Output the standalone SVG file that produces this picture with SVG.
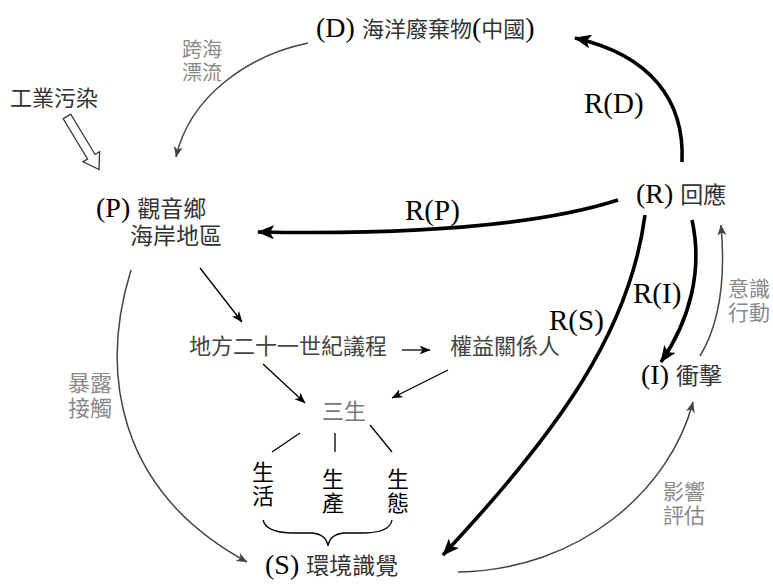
<svg xmlns="http://www.w3.org/2000/svg" width="773" height="585" viewBox="0 0 773 585">
<style>
.lat{font-family:"Liberation Serif","Times New Roman",serif;fill:#000}
.cjk{font-family:"Noto Sans CJK TC","Noto Sans CJK SC",sans-serif;fill:#333}
.n{font-size:22px}
.v{writing-mode:vertical-rl;letter-spacing:2px;fill:#000}
.lab{font-family:"Noto Sans CJK TC","Noto Sans CJK SC",sans-serif;fill:#8a8a8a;font-size:20px}
.rl{font-family:"Liberation Serif","Times New Roman",serif;font-size:29px;fill:#000}
.thick{fill:none;stroke:#000;stroke-width:3.6}
.thin{fill:none;stroke:#444;stroke-width:1.5}
.line{fill:none;stroke:#000;stroke-width:1.3}
</style>
<defs>
<marker id="hk" markerUnits="userSpaceOnUse" viewBox="0 0 17 14" refX="16" refY="7" markerWidth="17" markerHeight="14" orient="auto">
<path d="M0,0 L17,7 L0,14 L4,7 z" fill="#000"/>
</marker>
<marker id="hn" markerUnits="userSpaceOnUse" viewBox="0 0 11 9" refX="10.5" refY="4.5" markerWidth="11" markerHeight="9" orient="auto">
<path d="M0,0 L11,4.5 L0,9 L3,4.5 z" fill="#444"/>
</marker>
<marker id="hs" markerUnits="userSpaceOnUse" viewBox="0 0 11 9" refX="10.5" refY="4.5" markerWidth="11" markerHeight="9" orient="auto">
<path d="M0,0 L11,4.5 L0,9 L3,4.5 z" fill="#000"/>
</marker>
</defs>

<g id="connectors">
<path class="thin" d="M308,43 C250,55 190,95 176,157" marker-end="url(#hn)"/>
<path class="thick" d="M682,162 C685,100 650,55 575,38" marker-end="url(#hk)"/>
<path class="thick" d="M618,200 C540,225 420,235 258,232" marker-end="url(#hk)"/>
<path class="thick" d="M645,215 C630,330 560,430 443,555" marker-end="url(#hk)"/>
<path class="thick" d="M692,220 C703,270 690,320 661,362" marker-end="url(#hk)"/>
<path class="thin" d="M700,356 C722,320 725,270 721,225" marker-end="url(#hn)"/>
<path class="thin" d="M458,572 C580,570 670,490 693,402" marker-end="url(#hn)"/>
<path class="thin" d="M131,270 C100,370 115,490 247,562" marker-end="url(#hn)"/>
<path class="line" d="M200,268 L242,322" marker-end="url(#hs)"/>
<path class="line" d="M263,364 L305,403" marker-end="url(#hs)"/>
<path class="line" d="M448,370 L392,398" marker-end="url(#hs)"/>
<path class="line" d="M402,350 L430,350" marker-end="url(#hs)"/>
<path class="line" d="M300,433 L272,452 M335,433 L335,452 M370,425 L392,452"/>
<path class="line" d="M263,520 Q266,532 290,533 L312,533 Q326,534 328,546 Q330,534 344,533 L366,533 Q390,532 392,520"/>
<polygon points="0,-4.4 47,-4.4 47,-9.7 62,0 47,9.7 47,4.4 0,4.4" fill="#fff" stroke="#333" stroke-width="1.3" transform="translate(67,116.5) rotate(58.9)"/>
<text class="lab"><tspan x="182" y="57">跨海</tspan><tspan x="182" y="80">漂流</tspan></text>
<text class="lab" style="font-size:22px"><tspan x="68" y="391">暴露</tspan><tspan x="68" y="416">接觸</tspan></text>
<text class="lab" style="font-size:21px"><tspan x="728" y="296">意識</tspan><tspan x="728" y="320">行動</tspan></text>
<text class="lab" style="font-size:21px"><tspan x="663" y="499">影響</tspan><tspan x="663" y="523">評估</tspan></text>
<text class="rl" x="584" y="113">R(D)</text>
<text class="rl" x="405" y="220">R(P)</text>
<text class="rl" x="633" y="303">R(I)</text>
<text class="rl" x="549" y="330">R(S)</text>
</g>

<g id="node-D">
<text x="316" y="37"><tspan class="lat" font-size="28">(D) </tspan><tspan class="cjk" font-size="22">海洋廢棄物</tspan><tspan class="lat" font-size="28">(</tspan><tspan class="cjk" font-size="22">中國</tspan><tspan class="lat" font-size="28">)</tspan></text>
</g>
<g id="node-industry">
<text class="cjk" x="10" y="106" font-size="22">工業污染</text>
</g>
<g id="node-P">
<text><tspan x="96" y="217" class="lat" font-size="28">(P) </tspan><tspan class="cjk" font-size="23">觀音鄉</tspan><tspan x="130" y="244" class="cjk" font-size="23">海岸地區</tspan></text>
</g>
<g id="node-R">
<text x="636" y="203"><tspan class="lat" font-size="28">(R) </tspan><tspan class="cjk" font-size="23">回應</tspan></text>
</g>
<g id="node-I">
<text x="641" y="384"><tspan class="lat" font-size="28">(I) </tspan><tspan class="cjk" font-size="23">衝擊</tspan></text>
</g>
<g id="node-LA21">
<text class="cjk n" x="189" y="354" style="fill:#444">地方二十一世紀議程</text>
</g>
<g id="node-stakeholders">
<text class="cjk n" x="450" y="354" style="fill:#444">權益關係人</text>
</g>
<g id="node-sansheng">
<text class="cjk n" x="322" y="419" style="fill:#777">三生</text>
</g>
<g id="node-life">
<text class="cjk n v" x="263" y="461">生活</text>
</g>
<g id="node-production">
<text class="cjk n v" x="333" y="468">生產</text>
</g>
<g id="node-ecology">
<text class="cjk n v" x="398" y="468">生態</text>
</g>
<g id="node-S">
<text x="265" y="574"><tspan class="lat" font-size="28">(S) </tspan><tspan class="cjk" font-size="23">環境識覺</tspan></text>
</g>
</svg>
